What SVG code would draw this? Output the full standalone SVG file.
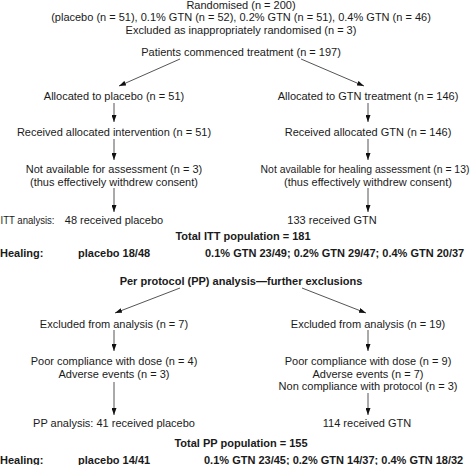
<svg xmlns="http://www.w3.org/2000/svg" width="474" height="465" viewBox="0 0 474 465">
<style>
text{font-family:"Liberation Sans",Arial,sans-serif;font-size:11px;fill:#1a1a1a}
.c{text-anchor:middle}
.b{font-weight:bold}
.ln{stroke:#555;stroke-width:1;fill:none}
</style>
<defs>
<marker id="ah" viewBox="0 0 10 10" refX="10" refY="5" markerWidth="7" markerHeight="5" orient="auto" markerUnits="userSpaceOnUse" preserveAspectRatio="none">
<path d="M0,0 L10,5 L0,10 z" fill="#111"/>
</marker>
</defs>
<g id="connectors">
<line class="ln" x1="180" y1="59" x2="119" y2="86" marker-end="url(#ah)"/>
<line class="ln" x1="301" y1="59" x2="364" y2="86" marker-end="url(#ah)"/>
<line class="ln" x1="114" y1="103" x2="114" y2="122" marker-end="url(#ah)"/>
<line class="ln" x1="114" y1="139" x2="114" y2="160" marker-end="url(#ah)"/>
<line class="ln" x1="114" y1="188" x2="114" y2="212" marker-end="url(#ah)"/>
<line class="ln" x1="368" y1="103" x2="368" y2="122" marker-end="url(#ah)"/>
<line class="ln" x1="368" y1="139" x2="368" y2="160" marker-end="url(#ah)"/>
<line class="ln" x1="368" y1="188" x2="368" y2="212" marker-end="url(#ah)"/>
<line class="ln" x1="180" y1="288" x2="115" y2="313" marker-end="url(#ah)"/>
<line class="ln" x1="302" y1="288" x2="366" y2="313" marker-end="url(#ah)"/>
<line class="ln" x1="114" y1="330" x2="114" y2="351" marker-end="url(#ah)"/>
<line class="ln" x1="368" y1="330" x2="368" y2="351" marker-end="url(#ah)"/>
<line class="ln" x1="114" y1="382" x2="114" y2="415" marker-end="url(#ah)"/>
<line class="ln" x1="368" y1="393" x2="368" y2="415" marker-end="url(#ah)"/>
</g>
<g id="randomised">
<text class="c" x="241" y="9">Randomised (n = 200)</text>
<text class="c" x="241" y="21">(placebo (n = 51), 0.1% GTN (n = 52), 0.2% GTN (n = 51), 0.4% GTN (n = 46)</text>
<text class="c" x="241" y="33.5">Excluded as inappropriately randomised (n = 3)</text>
</g>
<g id="commenced"><text class="c" x="241" y="56">Patients commenced treatment (n = 197)</text></g>
<g id="alloc-placebo"><text class="c" x="114" y="100">Allocated to placebo (n = 51)</text></g>
<g id="alloc-gtn"><text class="c" x="368" y="100">Allocated to GTN treatment (n = 146)</text></g>
<g id="recv-placebo"><text class="c" x="114" y="136">Received allocated intervention (n = 51)</text></g>
<g id="recv-gtn"><text class="c" x="368" y="136">Received allocated GTN (n = 146)</text></g>
<g id="na-placebo">
<text class="c" x="114" y="173">Not available for assessment (n = 3)</text>
<text class="c" x="114" y="186">(thus effectively withdrew consent)</text>
</g>
<g id="na-gtn">
<text class="c" x="365" y="173" style="font-size:10.4px">Not available for healing assessment (n = 13)</text>
<text class="c" x="368" y="186">(thus effectively withdrew consent)</text>
</g>
<g id="itt-placebo">
<text x="0.5" y="223.5" textLength="54" lengthAdjust="spacingAndGlyphs">ITT analysis:</text>
<text class="c" x="114" y="223.5">48 received placebo</text>
</g>
<g id="itt-gtn"><text class="c" x="332" y="223.5">133 received GTN</text></g>
<g id="itt-total">
<text class="c b" x="243" y="240">Total ITT population = 181</text>
<text class="b" x="0" y="257">Healing:</text>
<text class="b" x="78" y="257">placebo 18/48</text>
<text class="b" x="205" y="257">0.1% GTN 23/49; 0.2% GTN 29/47; 0.4% GTN 20/37</text>
</g>
<g id="pp-header"><text class="c b" x="241" y="285">Per protocol (PP) analysis—further exclusions</text></g>
<g id="excl-placebo"><text class="c" x="114" y="328">Excluded from analysis (n = 7)</text></g>
<g id="excl-gtn"><text class="c" x="368" y="328">Excluded from analysis (n = 19)</text></g>
<g id="reasons-placebo">
<text class="c" x="114" y="365">Poor compliance with dose (n = 4)</text>
<text class="c" x="114" y="378">Adverse events (n = 3)</text>
</g>
<g id="reasons-gtn">
<text class="c" x="368" y="365">Poor compliance with dose (n = 9)</text>
<text class="c" x="368" y="377.5">Adverse events (n = 7)</text>
<text class="c" x="368" y="390">Non compliance with protocol (n = 3)</text>
</g>
<g id="pp-placebo"><text class="c" x="114" y="427">PP analysis: 41 received placebo</text></g>
<g id="pp-gtn"><text class="c" x="367" y="427">114 received GTN</text></g>
<g id="pp-total">
<text class="c b" x="241" y="447">Total PP population = 155</text>
<text class="b" x="0" y="463.5">Healing:</text>
<text class="b" x="78" y="463.5">placebo 14/41</text>
<text class="b" x="204" y="463.5">0.1% GTN 23/45; 0.2% GTN 14/37; 0.4% GTN 18/32</text>
</g>
</svg>
